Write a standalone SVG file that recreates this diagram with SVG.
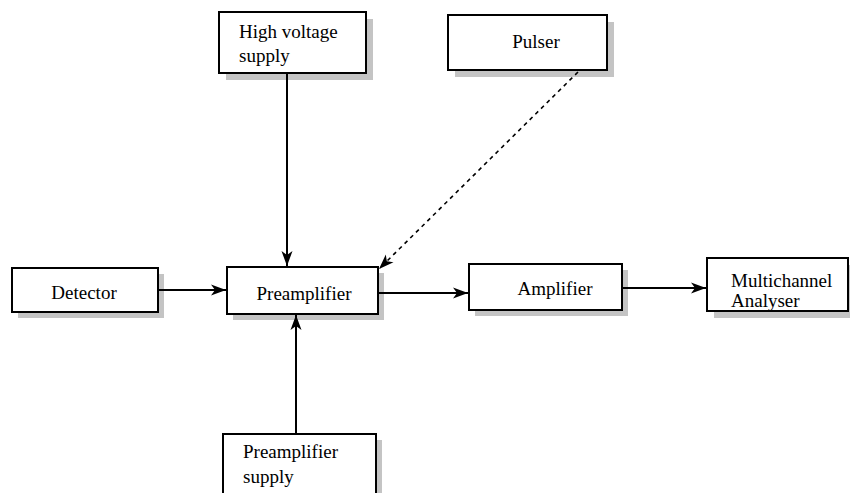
<svg xmlns="http://www.w3.org/2000/svg" width="850" height="493" viewBox="0 0 850 493">
<style>
.box{fill:#fff;stroke:#000;stroke-width:2}
.sh{fill:#c4c4c4}
.t{font-size:19px;fill:#000}
.c{fill:none;stroke:#000;stroke-width:2}
.d{stroke-dasharray:4,4;stroke-width:1.6}
</style>
<defs>
<marker id="ah" markerUnits="userSpaceOnUse" markerWidth="16" markerHeight="12" refX="15" refY="6" orient="auto">
<path d="M0,0.5 L15,6 L0,11.5 L4,6 z" fill="#000"/>
</marker>
</defs>
<rect width="850" height="493" fill="#fff"/>
<g font-family="Liberation Serif, Times New Roman, serif">
<g id="hv">
<rect class="sh" x="226" y="19" width="147" height="61"/>
<rect class="box" x="219" y="12" width="147" height="61"/>
<text class="t" x="239" y="38">High voltage</text>
<text class="t" x="239" y="62">supply</text>
</g>
<g id="pulser">
<rect class="sh" x="455" y="22" width="159" height="55"/>
<rect class="box" x="448" y="15" width="159" height="55"/>
<text class="t" x="536" y="48" text-anchor="middle">Pulser</text>
</g>
<g id="detector">
<rect class="sh" x="18" y="274" width="146" height="44"/>
<rect class="box" x="12" y="268" width="146" height="44"/>
<text class="t" x="84" y="299" text-anchor="middle">Detector</text>
</g>
<g id="preamp">
<rect class="sh" x="233" y="273" width="151" height="47"/>
<rect class="box" x="227" y="267" width="151" height="47"/>
<text class="t" x="304" y="300" text-anchor="middle">Preamplifier</text>
</g>
<g id="amplifier">
<rect class="sh" x="475" y="270" width="153" height="46"/>
<rect class="box" x="469" y="264" width="153" height="46"/>
<text class="t" x="555" y="295" text-anchor="middle">Amplifier</text>
</g>
<g id="mca">
<rect class="sh" x="714" y="265" width="141" height="53"/>
<rect class="box" x="707" y="258" width="141" height="53"/>
<text class="t" x="731" y="287">Multichannel</text>
<text class="t" x="731" y="307">Analyser</text>
</g>
<g id="preampsupply">
<rect class="sh" x="229" y="440" width="153" height="70"/>
<rect class="box" x="223" y="434" width="153" height="70"/>
<text class="t" x="243" y="458">Preamplifier</text>
<text class="t" x="243" y="483">supply</text>
</g>
</g>
<g id="connectors">
<line class="c" x1="287" y1="73" x2="287" y2="266" marker-end="url(#ah)"/>
<line class="c d" x1="578" y1="72" x2="379" y2="269" marker-end="url(#ah)"/>
<line class="c" x1="158" y1="290" x2="226" y2="290" marker-end="url(#ah)"/>
<line class="c" x1="296" y1="434" x2="296" y2="315" marker-end="url(#ah)"/>
<line class="c" x1="378" y1="293" x2="468" y2="293" marker-end="url(#ah)"/>
<line class="c" x1="622" y1="288" x2="706" y2="288" marker-end="url(#ah)"/>
</g>
</svg>
